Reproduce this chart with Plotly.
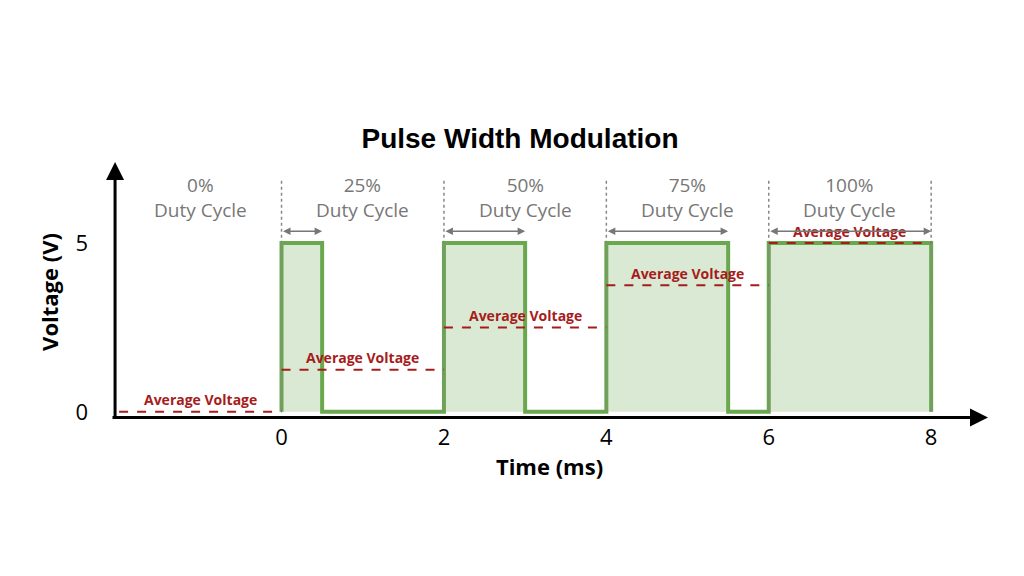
import plotly.graph_objects as go

# pulse train, time in ms and voltage in V
pulse_t = [0, 0, 0.5, 0.5, 2, 2, 3, 3, 4, 4, 5.5, 5.5, 6, 6, 8, 8]
pulse_v = [0, 5, 5, 0, 0, 5, 5, 0, 0, 5, 5, 0, 0, 5, 5, 0]

seg_start = [-2, 0, 2, 4, 6]
seg_end = [0, 2, 4, 6, 8]
duty_labels = ['0%', '25%', '50%', '75%', '100%']
avg_voltage = [0, 1.25, 2.5, 3.75, 5]
high_end = [None, 0.5, 3, 5.5, 8]
boundaries = [0, 2, 4, 6, 8]

GREEN = '#6aa84f'
FILL = 'rgba(106,168,79,0.25)'
RED = '#a61c1c'
GRAY = '#777777'
FONT = 'Open Sans'

fig = go.Figure()

# axis arrows (drawn first, slightly under the zero level)
fig.add_annotation(x=8.7, y=-0.17, ax=-2.1, ay=-0.17, xref='x', yref='y', axref='x', ayref='y',
                   text='', showarrow=True, arrowhead=2, arrowsize=1.2, arrowwidth=3,
                   arrowcolor='black')
fig.add_annotation(x=-2.05, y=7.4, ax=-2.05, ay=-0.17, xref='x', yref='y', axref='x', ayref='y',
                   text='', showarrow=True, arrowhead=2, arrowsize=1.2, arrowwidth=3,
                   arrowcolor='black')

fig.add_trace(go.Scatter(x=pulse_t, y=pulse_v, mode='lines', fill='tozeroy',
                         fillcolor=FILL, line=dict(color=GREEN, width=4),
                         hoverinfo='skip', showlegend=False))

for b in boundaries:
    fig.add_shape(type='line', x0=b, x1=b, y0=0, y1=6.9,
                  line=dict(color='#888888', width=1.5, dash='dot'))

for s, e, lab, avg, h in zip(seg_start, seg_end, duty_labels, avg_voltage, high_end):
    fig.add_annotation(x=(s + e) / 2, y=6.35, text=f'{lab}<br>Duty Cycle', showarrow=False,
                       font=dict(family=FONT, size=19, color=GRAY))
    fig.add_shape(type='line', x0=s, x1=e, y0=avg, y1=avg,
                  line=dict(color=RED, width=2, dash='dash'))
    fig.add_annotation(x=(s + e) / 2, y=avg, yshift=12, text='<b>Average Voltage</b>',
                       showarrow=False, font=dict(family=FONT, size=14, color=RED))
    if h is not None:
        fig.add_annotation(x=h, y=5.35, ax=s, ay=5.35, xref='x', yref='y', axref='x', ayref='y',
                           text='', showarrow=True, arrowhead=2, arrowside='end+start',
                           arrowsize=1, arrowwidth=1.5, arrowcolor=GRAY)

fig.update_layout(
    width=1024, height=576,
    plot_bgcolor='white', paper_bgcolor='white',
    margin=dict(l=103, r=44, t=154, b=162),
    title=dict(text='<b>Pulse Width Modulation</b>', x=0.5, y=1 - 130 / 576,
               xanchor='center', yanchor='middle',
               font=dict(family='Liberation Sans', size=28, color='black')),
)
fig.update_xaxes(range=[-2.1, 8.7], tickvals=boundaries, showgrid=False, zeroline=False,
                 showline=False, tickfont=dict(family=FONT, size=22, color='black'),
                 title=dict(text='<b>Time (ms)</b>', standoff=0,
                            font=dict(family=FONT, size=22, color='black')))
fig.update_yaxes(range=[-0.3, 7.4], tickvals=[0, 5], showgrid=False, zeroline=False,
                 showline=False, ticklabelstandoff=22,
                 tickfont=dict(family=FONT, size=22, color='black'),
                 title=dict(text='<b>Voltage (V)</b>', standoff=10,
                            font=dict(family=FONT, size=22, color='black')))

fig.write_html('out.html')
